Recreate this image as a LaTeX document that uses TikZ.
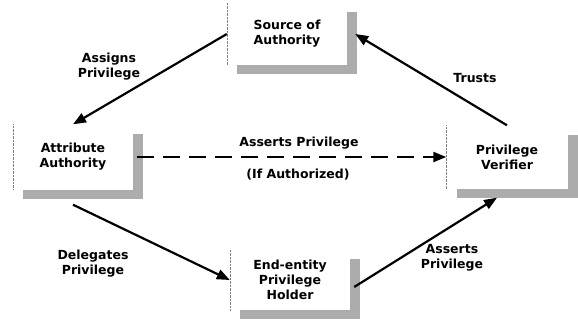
\documentclass[tikz,border=0pt]{standalone}
\usepackage{fontspec}
\setmainfont{DejaVu Sans}
\usepackage{tikz}
\usetikzlibrary{arrows.meta,shadows}

\begin{document}
\begin{tikzpicture}[x=1pt,y=-1pt,font=\fontsize{12.5}{15}\selectfont\bfseries,
   box/.style={fill=white,minimum width=120pt,minimum height=62pt,inner sep=2pt,align=center,
               drop shadow={shadow xshift=10pt,shadow yshift=-9pt,fill=gray!65,opacity=1}},
   boxedge/.style={gray,densely dotted,thin},
   flow/.style={-{Triangle[length=13pt,width=10pt]},line width=2.2pt},
   lbl/.style={align=center,inner sep=0pt}]
  \useasboundingbox (0,0) rectangle (578,332);
  \node[box] (src) at (287,34)  {Source of\\Authority};
  \node[box,minimum height=65pt] (aa) at (73,157)  {Attribute\\Authority};
  \node[box,minimum width=121pt,minimum height=63pt] (pv) at (507,157) {Privilege\\Verifier};
  \node[box,minimum height=60pt] (ee) at (290,280) {End-entity\\Privilege\\Holder};
  \foreach \n in {src,aa,pv,ee}
    \draw[boxedge] (\n.north west) -- (\n.south west);
  % connectors
  \draw[flow] (src.west) -- (aa.north);
  \draw[flow] (pv.north) -- ([xshift=8pt]src.east);
  \draw[flow,dash pattern=on 17pt off 9pt] ([xshift=4pt]aa.east) -- (pv.west);
  \draw[flow] ([yshift=-15pt]aa.south) -- (ee.west);
  \draw[flow] ([xshift=4pt,yshift=-7pt]ee.east) -- ([xshift=-10pt,yshift=-9pt]pv.south);
  % labels
  \node[lbl] (assigns)   at (109,67)  {Assigns\\Privilege};
  \node[lbl] (trusts)    at (475,78)  {Trusts};
  \node[lbl] (asserts)   at (299,143) {Asserts Privilege};
  \node[lbl] (ifauth)    at (298,175) {(If Authorized)};
  \node[lbl] (delegates) at (93,264)  {Delegates\\Privilege};
  \node[lbl] (asserts2)  at (452,258) {Asserts\\Privilege};
\end{tikzpicture}
\end{document}
